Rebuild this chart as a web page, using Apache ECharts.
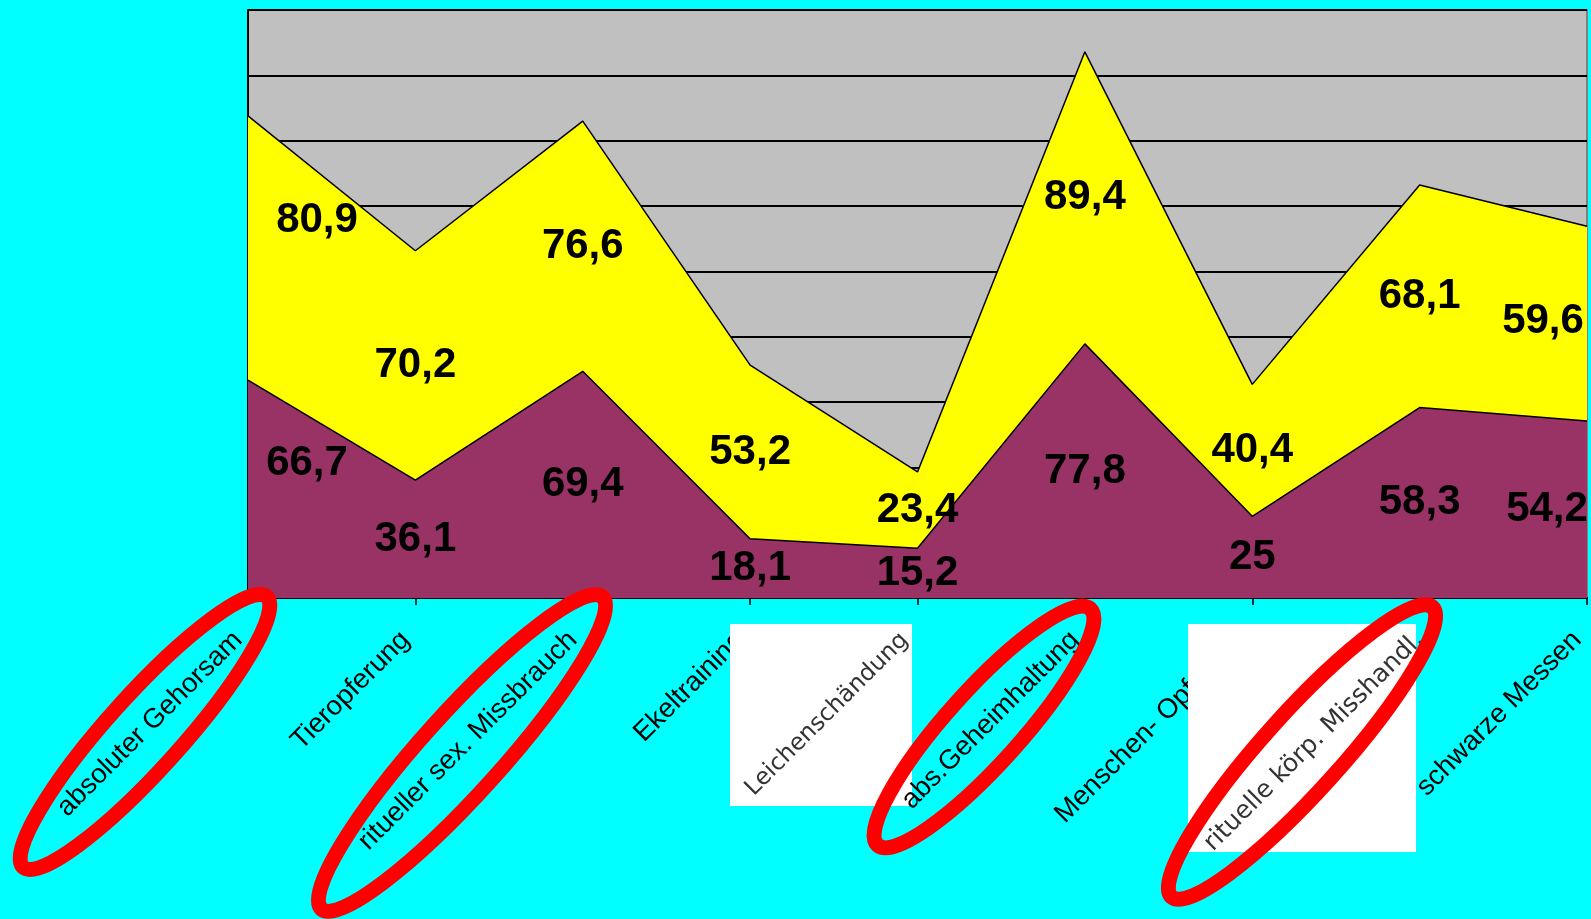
<!DOCTYPE html>
<html>
<head>
<meta charset="utf-8">
<script src="https://cdn.jsdelivr.net/npm/echarts@6/dist/echarts.min.js"></script>
<style>
html,body{margin:0;padding:0;background:#00FFFF;}
#c{width:1591px;height:919px;}
</style>
</head>
<body>
<div id="c"></div>
<script>
const categories = ["absoluter Gehorsam","Tieropferung","ritueller sex. Missbrauch","Ekeltraining","Leichenschändung","abs.Geheimhaltung","Menschen- Opferung","rituelle körp. Misshandl.","schwarze Messen"];
const purpleValues = [66.7, 36.1, 69.4, 18.1, 15.2, 77.8, 25, 58.3, 54.2];
const yellowValues = [80.9, 70.2, 76.6, 53.2, 23.4, 89.4, 40.4, 68.1, 59.6];
const boxedIdx = [4, 7];
const coveredIdx = [3, 6];
const yTicks = {min: 0, max: 180, interval: 20};

const fmt = v => String(v).replace('.', ',');
const purpleMid = purpleValues.map(v => v / 2);
const yellowMid = yellowValues.map((v, i) => purpleValues[i] + v / 2);
const edgeOffsetsYellow = {0: [69, -28], 8: [-44, -2]};
const edgeOffsetsPurple = {0: [59, -26], 8: [-40, 0]};

const labelFont = {fontFamily: 'Liberation Sans, Arial, sans-serif', fontSize: 42, fontWeight: 'bold', color: '#000'};

function labelData(mids, offsets) {
  return mids.map((m, i) => offsets[i] ? {value: m, label: {offset: offsets[i]}} : m);
}

const chart = echarts.init(document.getElementById('c'));
const deg = Math.PI / 180;
function ell(cx, cy, rx, ry, ang) {
  return {type: 'ellipse', x: cx, y: cy, rotation: ang * deg, z: 20,
    shape: {cx: 0, cy: 0, rx: rx, ry: ry},
    style: {fill: null, stroke: '#FF0000', lineWidth: 15}};
}
function boxAxis(idx, margin, padRight, size) {
  return {
    type: 'category', data: categories, boundaryGap: false, position: 'bottom', z: 8,
    axisLine: {show: false}, axisTick: {show: false},
    axisLabel: {interval: 0, rotate: 45, margin: margin, padding: [0, padRight, 0, 0],
      fontFamily: 'DejaVu Sans, sans-serif', fontSize: size, color: '#333',
      hideOverlap: false, formatter: (v, i) => i === idx ? v : ''},
    splitLine: {show: false}
  };
}
const normalLabel = {interval: 0, rotate: 45, margin: 28, padding: [0, 14, 0, 0],
  fontFamily: 'Liberation Sans, Arial, sans-serif', fontSize: 27.5, color: '#000', hideOverlap: false};
chart.setOption({
  backgroundColor: '#00FFFF',
  animation: false,
  grid: {left: 248, right: 4, top: 10, bottom: 321, show: true, backgroundColor: '#C0C0C0', borderColor: '#808080', borderWidth: 2,
         containLabel: false, outerBoundsMode: 'none'},
  xAxis: [{
    type: 'category', data: categories, boundaryGap: false, z: 1,
    axisLine: {lineStyle: {color: '#000', width: 2}},
    axisTick: {show: true, length: 7, lineStyle: {color: '#000', width: 1.5}},
    axisLabel: Object.assign({formatter: (v, i) => coveredIdx.includes(i) ? v : ''}, normalLabel),
    splitLine: {show: false}
  },
  boxAxis(boxedIdx[0], 26, 18, 23.5),
  boxAxis(boxedIdx[1], 38, 0, 25),
  {
    type: 'category', data: categories, boundaryGap: false, position: 'bottom', z: 9,
    axisLine: {show: false}, axisTick: {show: false},
    axisLabel: Object.assign({formatter: (v, i) => (coveredIdx.includes(i) || boxedIdx.includes(i)) ? '' : v}, normalLabel),
    splitLine: {show: false}
  }],
  yAxis: {
    type: 'value', min: yTicks.min, max: yTicks.max, interval: yTicks.interval,
    axisLine: {show: true, lineStyle: {color: '#000', width: 2}},
    axisTick: {show: false}, axisLabel: {show: false},
    splitLine: {lineStyle: {color: '#000', width: 2}}
  },
  series: [
    {name: 'purple', type: 'line', stack: 's', data: purpleValues, symbol: 'none',
     lineStyle: {color: '#000', width: 1.5}, areaStyle: {color: '#993366', opacity: 1}, z: 3},
    {name: 'yellow', type: 'line', stack: 's', data: yellowValues, symbol: 'none',
     lineStyle: {color: '#000', width: 1.5}, areaStyle: {color: '#FFFF00', opacity: 1}, z: 2},
    {name: 'yellowLabels', type: 'scatter', data: labelData(yellowMid, edgeOffsetsYellow), symbolSize: 1,
     itemStyle: {color: 'rgba(0,0,0,0)', opacity: 1}, z: 5,
     label: Object.assign({show: true, position: 'inside', formatter: p => fmt(yellowValues[p.dataIndex])}, labelFont)},
    {name: 'purpleLabels', type: 'scatter', data: labelData(purpleMid, edgeOffsetsPurple), symbolSize: 1,
     itemStyle: {color: 'rgba(0,0,0,0)', opacity: 1}, z: 5,
     label: Object.assign({show: true, position: 'inside', formatter: p => fmt(purpleValues[p.dataIndex])}, labelFont)}
  ],
  graphic: [
    {type: 'rect', z: 4, shape: {x: 730, y: 624, width: 182, height: 182}, style: {fill: '#FFFFFF'}},
    {type: 'rect', z: 4, shape: {x: 1188, y: 624, width: 228, height: 228}, style: {fill: '#FFFFFF'}},
    ell(145, 732, 182, 37, 48),
    ell(462, 753, 210, 40, 48),
    ell(984, 727, 159, 37, 48),
    ell(1302, 752, 195, 39, 48)
  ]
});
</script>
</body>
</html>
